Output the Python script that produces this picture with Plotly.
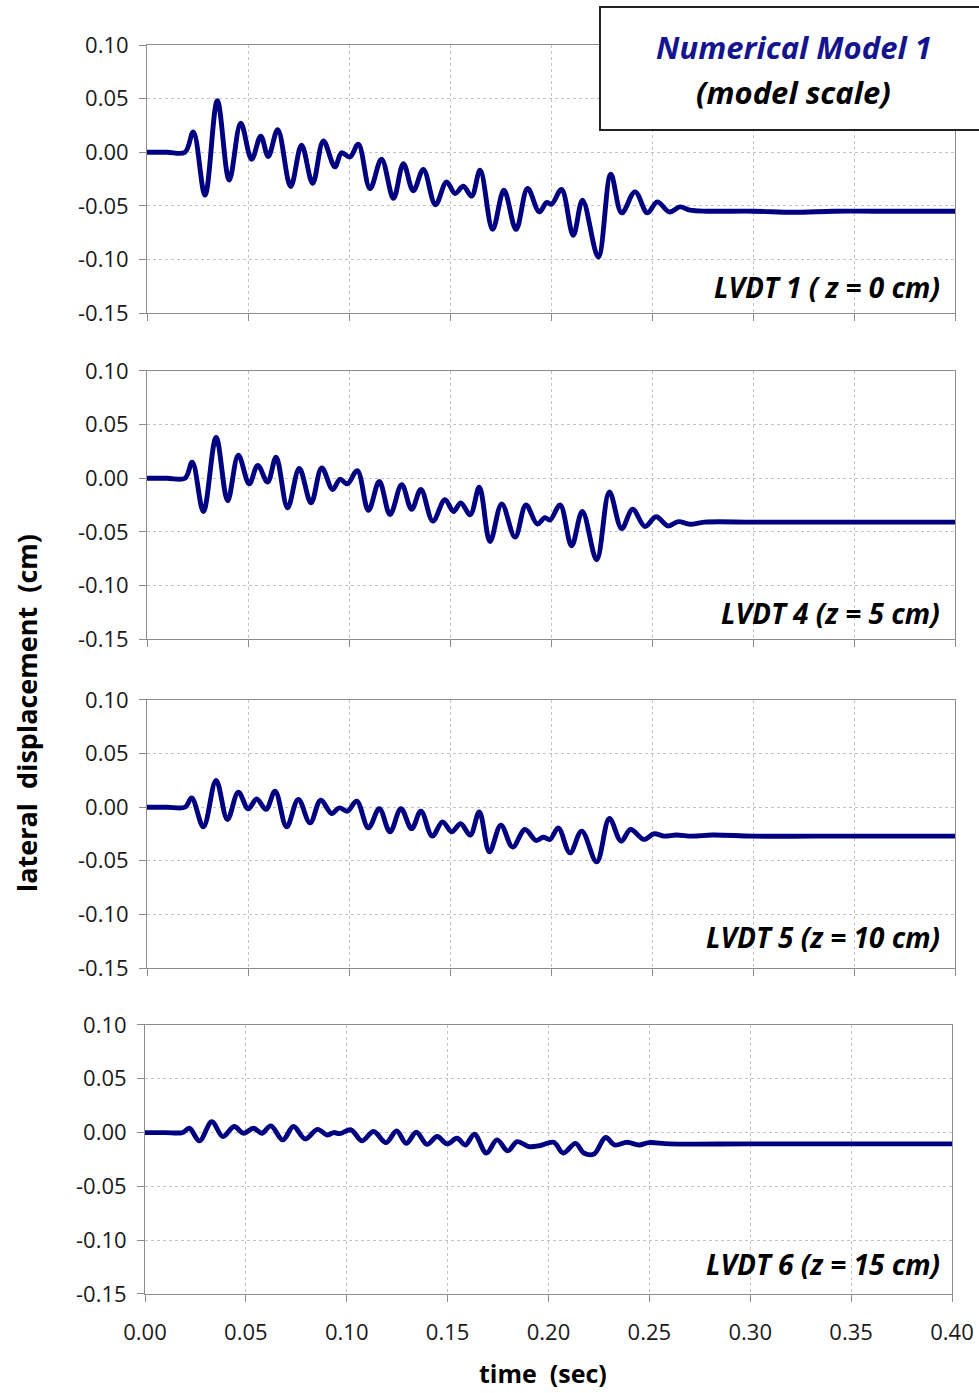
import plotly.graph_objects as go

# ---- LVDT records: times (sec) and lateral displacement (cm) ----
t_lvdt1 = [0, 0.010, 0.0188, 0.0229, 0.0287, 0.0348, 0.0407, 0.0464, 0.0518, 0.0563,
           0.0600, 0.0647, 0.0711, 0.0765, 0.0820, 0.0873, 0.0930, 0.0963, 0.1005, 0.1046,
           0.1104, 0.1161, 0.1220, 0.1269, 0.1318, 0.1368, 0.1428, 0.1483, 0.1525, 0.1566,
           0.1607, 0.1649, 0.1711, 0.1767, 0.1827, 0.1884, 0.1942, 0.1978, 0.2003, 0.2052,
           0.2110, 0.2156, 0.2234, 0.2296, 0.2350, 0.2416, 0.2477, 0.2526, 0.2586, 0.2639,
           0.2688, 0.2770, 0.30, 0.32, 0.34, 0.36, 0.40]
d_lvdt1 = [0, 0.000, 0.000, 0.019, -0.040, 0.048, -0.026, 0.027, -0.0065, 0.015,
           -0.004, 0.021, -0.032, 0.0065, -0.029, 0.0105, -0.0137, -0.0006, -0.0044, 0.0075,
           -0.034, -0.0065, -0.043, -0.0106, -0.036, -0.016, -0.049, -0.0277, -0.0385, -0.0317,
           -0.041, -0.0168, -0.072, -0.0354, -0.072, -0.0339, -0.0557, -0.047, -0.0485, -0.0348,
           -0.0774, -0.0448, -0.0977, -0.0205, -0.0566, -0.037, -0.0566, -0.0463, -0.0557, -0.051,
           -0.054, -0.055, -0.055, -0.056, -0.055, -0.055, -0.055]

t_lvdt4 = [0, 0.010, 0.0188, 0.0224, 0.0279, 0.0342, 0.0399, 0.0452, 0.0506, 0.0548,
           0.0597, 0.0639, 0.0696, 0.0754, 0.0812, 0.0865, 0.0919, 0.0955, 0.0992, 0.1041,
           0.1096, 0.1150, 0.1203, 0.1261, 0.1310, 0.1356, 0.1415, 0.1475, 0.1517, 0.1553,
           0.1600, 0.1645, 0.1698, 0.1756, 0.1822, 0.1876, 0.1932, 0.1970, 0.1995, 0.2045,
           0.2102, 0.2155, 0.2226, 0.2289, 0.2350, 0.2404, 0.2465, 0.2520, 0.2580, 0.2630,
           0.2688, 0.2760, 0.30, 0.33, 0.36, 0.40]
d_lvdt4 = [0, 0.000, 0.000, 0.015, -0.031, 0.038, -0.021, 0.0214, -0.0053, 0.012,
           -0.0037, 0.0195, -0.0276, 0.009, -0.023, 0.0096, -0.0105, -0.001, -0.0053, 0.007,
           -0.030, -0.003, -0.034, -0.006, -0.029, -0.0105, -0.040, -0.020, -0.031, -0.023,
           -0.034, -0.0085, -0.059, -0.024, -0.055, -0.025, -0.0428, -0.0368, -0.039, -0.025,
           -0.063, -0.031, -0.076, -0.0128, -0.047, -0.029, -0.045, -0.036, -0.0445, -0.0405,
           -0.043, -0.041, -0.041, -0.041, -0.041, -0.041]

t_lvdt5 = [0, 0.010, 0.0188, 0.0221, 0.0279, 0.0342, 0.0398, 0.0452, 0.0501, 0.0543,
           0.0589, 0.0634, 0.0691, 0.0749, 0.0807, 0.0860, 0.0914, 0.0952, 0.0992, 0.1038,
           0.1096, 0.1150, 0.1203, 0.1257, 0.1310, 0.1356, 0.1412, 0.1463, 0.1508, 0.1553,
           0.1600, 0.1645, 0.1695, 0.1752, 0.1810, 0.1871, 0.1926, 0.1962, 0.1995, 0.2036,
           0.2094, 0.2152, 0.2226, 0.2289, 0.2347, 0.2394, 0.2460, 0.2510, 0.2560, 0.2620,
           0.2700, 0.2800, 0.30, 0.33, 0.36, 0.40]
d_lvdt5 = [0, 0.000, 0.000, 0.0087, -0.0183, 0.025, -0.0115, 0.014, -0.0015, 0.0077,
           -0.002, 0.015, -0.0183, 0.0072, -0.0146, 0.0065, -0.0059, -0.0006, -0.0037, 0.0056,
           -0.0193, -0.0015, -0.023, -0.0015, -0.020, -0.0037, -0.027, -0.0137, -0.023, -0.0155,
           -0.026, -0.0044, -0.0416, -0.0168, -0.0372, -0.0208, -0.031, -0.028, -0.030, -0.0193,
           -0.0426, -0.0223, -0.051, -0.0105, -0.0317, -0.0208, -0.030, -0.0248, -0.027, -0.026,
           -0.027, -0.026, -0.027, -0.027, -0.027, -0.027]

t_lvdt6 = [0, 0.010, 0.0185, 0.0220, 0.0270, 0.0331, 0.0386, 0.0442, 0.0488, 0.0538,
           0.0579, 0.0624, 0.0683, 0.0736, 0.0794, 0.0855, 0.0902, 0.0935, 0.0965, 0.1021,
           0.1075, 0.1133, 0.1195, 0.1247, 0.1295, 0.1345, 0.1398, 0.1448, 0.1497, 0.1547,
           0.1588, 0.1633, 0.1692, 0.1745, 0.1798, 0.1845, 0.1902, 0.1960, 0.2026, 0.2073,
           0.2134, 0.2175, 0.2225, 0.2283, 0.2328, 0.2390, 0.2448, 0.2498, 0.26, 0.30,
           0.35, 0.40]
d_lvdt6 = [0, 0.000, 0.000, 0.004, -0.0077, 0.010, -0.0037, 0.0056, -0.0006, 0.004,
           -0.0006, 0.0062, -0.0068, 0.0056, -0.0059, 0.003, -0.0022, 0.000, -0.001, 0.0025,
           -0.0077, 0.001, -0.0093, 0.0015, -0.010, 0.0003, -0.011, -0.0037, -0.0105, -0.0053,
           -0.0115, -0.0015, -0.019, -0.0068, -0.017, -0.0084, -0.013, -0.012, -0.009, -0.019,
           -0.010, -0.019, -0.020, -0.0046, -0.0115, -0.009, -0.0115, -0.0093, -0.0105, -0.0105,
           -0.0105, -0.0105]

panel_labels = ["LVDT 1 ( z = 0 cm)", "LVDT 4 (z = 5 cm)",
                "LVDT 5 (z = 10 cm)", "LVDT 6 (z = 15 cm)"]

y_tickvals = [-0.15, -0.10, -0.05, 0.00, 0.05, 0.10]
y_ticktext = ["-0.15", "-0.10", "-0.05", "0.00", "0.05", "0.10"]
x_tickvals = [0.00, 0.05, 0.10, 0.15, 0.20, 0.25, 0.30, 0.35, 0.40]
x_ticktext = ["0.00", "0.05", "0.10", "0.15", "0.20", "0.25", "0.30", "0.35", "0.40"]

series = [(t_lvdt1, d_lvdt1), (t_lvdt4, d_lvdt4), (t_lvdt5, d_lvdt5), (t_lvdt6, d_lvdt6)]

# ---- layout geometry ----
W, H = 979, 1393
ML, MR, MT, MB = 145, 24, 45, 99
y_domains = [[0.7854, 1.0], [0.5244, 0.7390], [0.2610, 0.4756], [0.0, 0.2154]]
x_domains = [[0.0025, 1.0], [0.0025, 1.0], [0.0025, 1.0], [0.0, 0.9963]]
label_y = [0.8062, 0.5452, 0.2858, 0.0240]

FONT = "Open Sans"
LINE = "#000080"
AXIS = "#8c8c8c"
GRID = "#c4c4c4"
TICKFONT = dict(family=FONT, size=22, color="#1a1a1a")

fig = go.Figure()

for i, (t, d) in enumerate(series):
    n = "" if i == 0 else str(i + 1)
    fig.add_trace(go.Scatter(
        x=t, y=d, mode="lines", xaxis="x" + n, yaxis="y" + n,
        line=dict(color=LINE, width=4.9, shape="spline", smoothing=1.0),
        showlegend=False, hoverinfo="x+y",
    ))
    fig.layout["xaxis" + n] = dict(
        domain=x_domains[i], anchor="y" + n, range=[0, 0.40],
        tickvals=x_tickvals, ticktext=x_ticktext, showticklabels=(i == 3),
        ticks="outside", ticklen=7, tickcolor=AXIS, ticklabelstandoff=12,
        ticklabeloverflow="allow", automargin=False,
        showline=True, linecolor=AXIS, linewidth=1, mirror=True,
        showgrid=True, gridcolor=GRID, griddash="dot", gridwidth=1,
        zeroline=False, tickfont=TICKFONT,
    )
    fig.layout["yaxis" + n] = dict(
        domain=y_domains[i], anchor="x" + n, range=[-0.15, 0.10],
        tickvals=y_tickvals, ticktext=y_ticktext,
        ticks="outside", ticklen=7, tickcolor=AXIS, ticklabelstandoff=6,
        ticklabeloverflow="allow", automargin=False,
        showline=True, linecolor=AXIS, linewidth=1, mirror=True,
        showgrid=True, gridcolor=GRID, griddash="dot", gridwidth=1,
        zeroline=False, tickfont=TICKFONT,
    )
    fig.add_annotation(
        x=0.984, y=label_y[i], xref="paper", yref="paper",
        xanchor="right", yanchor="middle", showarrow=False,
        text="<b><i>" + panel_labels[i] + "</i></b>",
        font=dict(family=FONT, size=28, color="#000000"),
    )

# title box in the upper right corner
fig.add_shape(type="rect", xref="paper", yref="paper",
              x0=0.5617, x1=1.04, y0=0.9319, y1=1.0304,
              line=dict(color="#222222", width=2), fillcolor="white", layer="above")
fig.add_annotation(x=0.801, y=0.9984, xref="paper", yref="paper", showarrow=False,
                   xanchor="center", yanchor="middle",
                   text="<b><i>Numerical Model 1</i></b>",
                   font=dict(family=FONT, size=31, color="#14148f"))
fig.add_annotation(x=0.801, y=0.9624, xref="paper", yref="paper", showarrow=False,
                   xanchor="center", yanchor="middle",
                   text="<b><i>(model scale)</i></b>",
                   font=dict(family=FONT, size=31, color="#000000"))

# shared axis titles
fig.add_annotation(x=-0.1457, y=0.4652, xref="paper", yref="paper", showarrow=False,
                   xanchor="center", yanchor="middle",
                   textangle=-90, text="<b>lateral  displacement  (cm)</b>",
                   font=dict(family=FONT, size=27, color="#000000"))
fig.add_annotation(x=0.4914, y=-0.0630, xref="paper", yref="paper", showarrow=False,
                   xanchor="center", yanchor="middle",
                   text="<b>time  (sec)</b>",
                   font=dict(family=FONT, size=25, color="#000000"))

fig.update_layout(
    width=W, height=H,
    margin=dict(l=ML, r=MR, t=MT, b=MB),
    paper_bgcolor="white", plot_bgcolor="white",
    font=dict(family=FONT),
)

fig.write_html("out.html")
